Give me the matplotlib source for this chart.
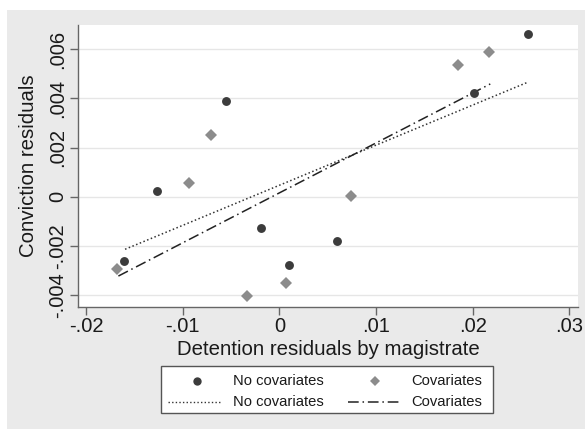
import matplotlib
matplotlib.use("Agg")
import matplotlib.pyplot as plt
from matplotlib.patches import Rectangle
from matplotlib.lines import Line2D

plt.rcParams['font.family'] = ['Liberation Sans', 'DejaVu Sans']

# Data: No covariates (circles)
nocov_x = [-0.01605, -0.01269, -0.00553, -0.00194, 0.00100, 0.00591, 0.02009, 0.02569]
nocov_y = [-0.00262, 0.00022, 0.00391, -0.00126, -0.00278, -0.00179, 0.00421, 0.00663]
# Covariates (diamonds)
cov_x = [-0.01684, -0.00934, -0.00709, -0.00335, 0.00069, 0.00737, 0.01850, 0.02172]
cov_y = [-0.00293, 0.00056, 0.00253, -0.00404, -0.00353, 0.00003, 0.00536, 0.00588]
# Linear fit lines (endpoints)
fit_nocov_x = [-0.01598, 0.02576]
fit_nocov_y = [-0.00214, 0.00467]
fit_cov_x = [-0.01667, 0.02182]
fit_cov_y = [-0.00323, 0.00459]

xticks = [-0.02, -0.01, 0, 0.01, 0.02, 0.03]
xticklabels = ['-.02', '-.01', '0', '.01', '.02', '.03']
yticks = [-0.004, -0.002, 0, 0.002, 0.004, 0.006]
yticklabels = ['-.004', '-.002', '0', '.002', '.004', '.006']

W, H = 585, 429
fig = plt.figure(figsize=(W / 100, H / 100), dpi=100)
fig.patch.set_facecolor('white')
bg = Rectangle((7 / W, 0), (W - 7) / W, (H - 10) / H, transform=fig.transFigure,
               facecolor='#eaeaea', edgecolor='none', zorder=-10)
fig.patches.append(bg)

ax = fig.add_axes([78 / W, 1 - 307 / H, (578 - 78) / W, (307 - 25) / H])
ax.set_facecolor('white')
ax.set_xlim(-0.02085, 0.0309)
ax.set_ylim(-0.00449, 0.00699)

ax.set_yticks(yticks)
ax.grid(axis='y', color='#e6e6e6', linewidth=1.0)
ax.set_axisbelow(True)

dark = '#3c3c3c'
light = '#8c8c8c'
ax.plot(nocov_x, nocov_y, 'o', color=dark, markersize=6.4, markeredgewidth=0, zorder=3)
ax.plot(cov_x, cov_y, 'D', color=light, markersize=6.2, markeredgewidth=0, zorder=3)
ax.plot(fit_nocov_x, fit_nocov_y, color='#333333', linewidth=1.1, linestyle=(0, (1, 1.6)), zorder=2)
ax.plot(fit_cov_x, fit_cov_y, color='#222222', linewidth=1.1,
        linestyle=(0, (7, 2.5, 1, 2.5)), zorder=2)

for s in ['top', 'right']:
    ax.spines[s].set_visible(False)
for s in ['left', 'bottom']:
    ax.spines[s].set_color('#666666')
    ax.spines[s].set_linewidth(1.0)

ax.set_xticks(xticks)
ax.set_xticklabels(xticklabels, fontsize=14.5)
ax.set_yticklabels(yticklabels, fontsize=14.5, rotation=90, va='center')
ax.tick_params(axis='both', direction='out', length=5.5, width=1, color='#666666', pad=2,
               labelcolor='#1a1a1a')

ax.set_xlabel('Detention residuals by magistrate', fontsize=14.7, color='#1a1a1a', labelpad=2.5)
ax.set_ylabel('Conviction residuals', fontsize=14.7, color='#1a1a1a', labelpad=7.5)

# Legend box (Stata style)
lx0, lx1, ly0, ly1 = 161, 493, 366, 413
box = Rectangle((lx0 / W, 1 - ly1 / H), (lx1 - lx0) / W, (ly1 - ly0) / H,
                transform=fig.transFigure, facecolor='white', edgecolor='#555555',
                linewidth=1.0, zorder=5)
fig.patches.append(box)

def fx(px):
    return px / W

def fy(py):
    return 1 - py / H

r1, r2 = 381, 402
fig.add_artist(Line2D([fx(197)], [fy(r1)], marker='o', color=dark, markersize=6.0,
                      markeredgewidth=0, linestyle='none', zorder=6))
fig.add_artist(Line2D([fx(375)], [fy(r1)], marker='D', color=light, markersize=5.6,
                      markeredgewidth=0, linestyle='none', zorder=6))
fig.add_artist(Line2D([fx(168), fx(222)], [fy(r2), fy(r2)], color='#333333', linewidth=1.0,
                      linestyle=(0, (1, 1.6)), zorder=6))
fig.add_artist(Line2D([fx(348), fx(402)], [fy(r2), fy(r2)], color='#222222', linewidth=1.1,
                      linestyle=(0, (7, 2.5, 1, 2.5)), zorder=6))
fs = 10.6
fig.text(fx(233), fy(r1), 'No covariates', fontsize=fs, va='center', ha='left', zorder=7, color='#1a1a1a')
fig.text(fx(233), fy(r2), 'No covariates', fontsize=fs, va='center', ha='left', zorder=7, color='#1a1a1a')
fig.text(fx(482), fy(r1), 'Covariates', fontsize=fs, va='center', ha='right', zorder=7, color='#1a1a1a')
fig.text(fx(482), fy(r2), 'Covariates', fontsize=fs, va='center', ha='right', zorder=7, color='#1a1a1a')

fig.savefig('out.png', dpi=100)
